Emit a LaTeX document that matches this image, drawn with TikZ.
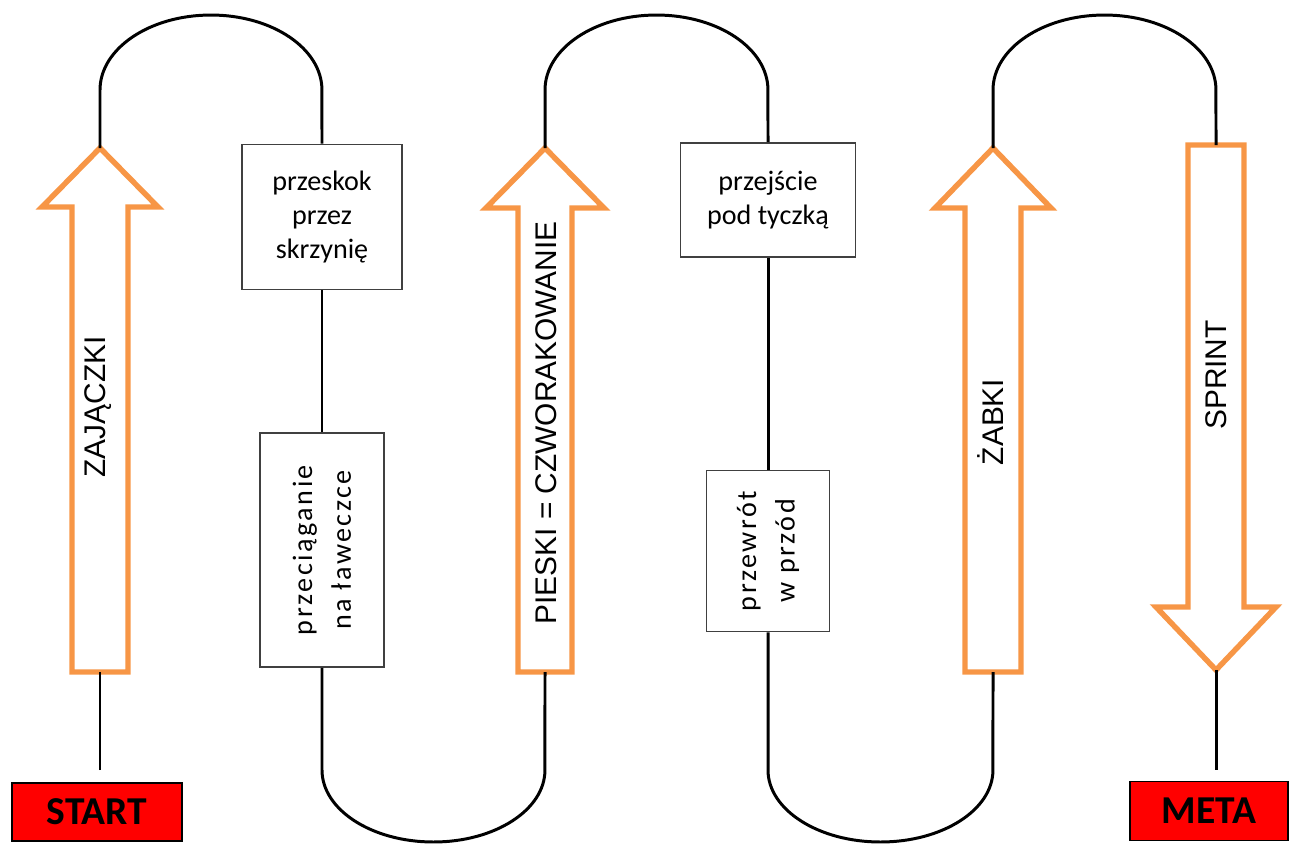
\documentclass[tikz,border=0pt]{standalone}
\usepackage{fontspec}
\setmainfont{Carlito}
\newfontfamily\labelsans{Liberation Sans}
\definecolor{trackorange}{HTML}{F79646}
\tikzset{
  track/.style={line width=1.7pt, black},
  station/.style={draw=black!75, line width=1.1pt, fill=white, align=center, inner sep=0pt,
    font=\fontsize{16}{19.2}\selectfont},
  turned/.style={station, rotate=90, font=\fontsize{16}{22}\selectfont\addfontfeature{LetterSpace=9}},
  bigarrow/.style={draw=trackorange, line width=3.1pt, fill=white},
  arrowtext/.style={rotate=90, font=\labelsans\fontsize{17}{20}\selectfont},
  endbox/.style={draw=black, fill=red, line width=0.8pt, inner sep=0pt,
    font=\bfseries\fontsize{22.5}{26}\selectfont}
}
\begin{document}
\begin{tikzpicture}[x=0.02cm, y=-0.02cm]
\useasboundingbox (0,0) rectangle (1294,843);
% start and finish
\node[endbox, minimum width=3.4cm, minimum height=1.16cm] (start) at (97,812) {START};
\node[endbox, minimum width=3.16cm, minimum height=1.18cm] (meta) at (1209,811) {META};
\coordinate (s0) at (100,770);
\coordinate (m0) at (1216,770);
% stations
\node[station, minimum width=3.2cm, minimum height=2.9cm] (skok) at (322,217) {przeskok\\przez\\skrzynię};
\node[turned, minimum width=4.68cm, minimum height=2.48cm] (lawka) at (322,550) {przeciąganie\\na ławeczce};
\node[station, minimum width=3.5cm, minimum height=2.28cm] (tyczka) at (768,200) {przejście\\pod tyczką};
\node[turned, minimum width=3.22cm, minimum height=2.46cm] (przewrot) at (768,551) {przewrót\\w przód};
% orange arrows
\draw[bigarrow] (100,148) -- (158,207) -- (128,207) -- (128,672) -- (72,672) -- (72,207) -- (42,207) -- cycle;
\coordinate (zaj-tip) at (100,148);
\coordinate (zaj-tail) at (100,672);
\node[arrowtext] (zaj) at (98,407) {ZAJĄCZKI};
\draw[bigarrow] (545,148) -- (604,208) -- (572,208) -- (572,672) -- (518,672) -- (518,208) -- (486,208) -- cycle;
\coordinate (pies-tip) at (545,148);
\coordinate (pies-tail) at (545,672);
\node[arrowtext] (pies) at (546,423) {PIESKI = CZWORAKOWANIE};
\draw[bigarrow] (993,148) -- (1051,208) -- (1021,208) -- (1021,672) -- (965,672) -- (965,208) -- (935,208) -- cycle;
\coordinate (zab-tip) at (993,148);
\coordinate (zab-tail) at (993,672);
\node[arrowtext] (zab) at (991,422) {ŻABKI};
\draw[bigarrow] (1188,145) -- (1244,145) -- (1244,607) -- (1276,607) -- (1216,670) -- (1156,607) -- (1188,607) -- cycle;
\coordinate (sprint-tail) at (1216,145);
\coordinate (sprint-tip) at (1216,670);
\node[arrowtext] (sprint) at (1216,375) {SPRINT};
% track
\draw[track] (s0) -- (zaj-tail);
\draw[track] (zaj-tip) -- (100,90) arc[start angle=180, end angle=0, x radius=2.22cm, y radius=1.5cm] -- (skok.north);
\draw[track] (skok.south) -- (lawka.east);
\draw[track] (lawka.west) -- (322,770) arc[start angle=180, end angle=360, x radius=2.23cm, y radius=1.44cm] -- (pies-tail);
\draw[track] (pies-tip) -- (545,90) arc[start angle=180, end angle=0, x radius=2.23cm, y radius=1.5cm] -- (tyczka.north);
\draw[track] (tyczka.south) -- (przewrot.east);
\draw[track] (przewrot.west) -- (768,770) arc[start angle=180, end angle=360, x radius=2.25cm, y radius=1.44cm] -- (zab-tail);
\draw[track] (zab-tip) -- (993,90) arc[start angle=180, end angle=0, x radius=2.23cm, y radius=1.5cm] -- (sprint-tail);
\draw[track] (sprint-tip) -- (m0);
\end{tikzpicture}
\end{document}
